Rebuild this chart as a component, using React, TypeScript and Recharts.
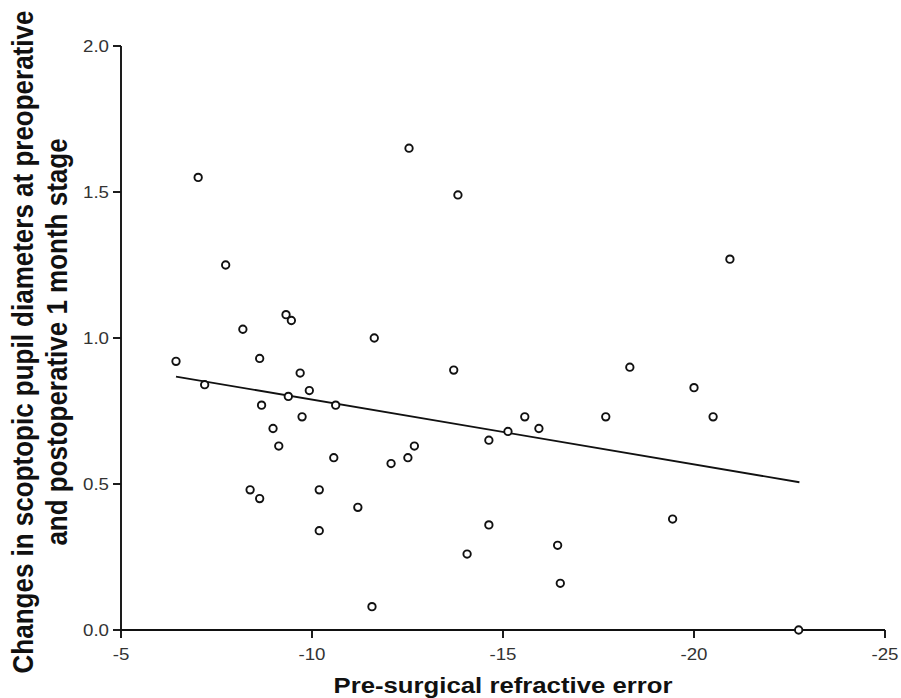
import {
    ScatterChart,
    Scatter,
    XAxis,
    YAxis,
    ReferenceLine,
} from 'recharts';

// pre-surgical refractive error (D) and change in scotopic pupil diameter (mm)
const refractiveError = [
    -6.44, -7.02, -7.19, -7.74, -8.19, -8.38, -8.63, -8.63, -8.68, -8.98,
    -9.13, -9.32, -9.38, -9.46, -9.69, -9.74, -9.93, -10.19, -10.19, -10.57,
    -10.62, -11.2, -11.57, -11.63, -12.07, -12.51, -12.54, -12.68, -13.71, -13.82,
    -14.06, -14.63, -14.63, -15.13, -15.57, -15.94, -16.43, -16.5, -17.69, -18.32,
    -19.44, -20.0, -20.5, -20.94, -22.74,
];
const pupilChange = [
    0.92, 1.55, 0.84, 1.25, 1.03, 0.48, 0.93, 0.45, 0.77, 0.69,
    0.63, 1.08, 0.80, 1.06, 0.88, 0.73, 0.82, 0.48, 0.34, 0.59,
    0.77, 0.42, 0.08, 1.0, 0.57, 0.59, 1.65, 0.63, 0.89, 1.49,
    0.26, 0.65, 0.36, 0.68, 0.73, 0.69, 0.29, 0.16, 0.73, 0.90,
    0.38, 0.83, 0.73, 1.27, 0.0,
];

// fitted regression line end points
const fitX = [-6.44, -22.76];
const fitY = [0.868, 0.506];

const xTicks = [-5, -10, -15, -20, -25];
const yTicks = [0, 0.5, 1.0, 1.5, 2.0];

const xTitle = 'Pre-surgical refractive error';
const yTitle = [
    'Changes in scoptopic pupil diameters at preoperative',
    'and postoperative 1 month stage',
];

const points = refractiveError.map((x, i) => ({ x, y: pupilChange[i] }));

// the source figure is stretched a bit horizontally
const STRETCH = 1.17;
const FONT = '"Liberation Sans", Arial, sans-serif';

const XTick = (props: any) => {
    const { x, y, payload } = props;
    return (
        <text
            transform={`translate(${x},${y}) scale(${STRETCH},1)`}
            textAnchor="middle"
            dy="0.71em"
            fontSize={16}
            fill="#333"
            fontFamily={FONT}
        >
            {payload.value}
        </text>
    );
};

const YTick = (props: any) => {
    const { x, y, payload } = props;
    return (
        <text
            transform={`translate(${x},${y}) scale(${STRETCH},1)`}
            textAnchor="end"
            dy="0.355em"
            fontSize={16}
            fill="#333"
            fontFamily={FONT}
        >
            {Number(payload.value).toFixed(1)}
        </text>
    );
};

const XTitle = (props: any) => {
    const vb = props.viewBox;
    return (
        <text
            transform={`translate(${vb.x + vb.width / 2},${vb.y + 63}) scale(${STRETCH},1)`}
            textAnchor="middle"
            fontSize={22}
            fontWeight="bold"
            fill="#111"
            fontFamily={FONT}
        >
            {xTitle}
        </text>
    );
};

const YTitle = (props: any) => {
    const vb = props.viewBox;
    const cy = vb.y + vb.height / 2 + 4;
    return (
        <text
            transform={`translate(0,${cy}) scale(${STRETCH},1) rotate(-90)`}
            textAnchor="middle"
            fontSize={26}
            fontWeight="bold"
            fill="#111"
            fontFamily={FONT}
        >
            <tspan x={0} y={33 / STRETCH}>{yTitle[0]}</tspan>
            <tspan x={0} y={67 / STRETCH}>{yTitle[1]}</tspan>
        </text>
    );
};

const Dot = (props: any) => (
    <circle cx={props.cx} cy={props.cy} r={3.7} fill="#fff" stroke="#111" strokeWidth={1.9} />
);

export default function App() {
    return (
        <div style={{ position: 'absolute', left: 0, top: 0, background: '#fff' }}>
            <ScatterChart
                width={901}
                height={698}
                margin={{ top: 46, right: 16, bottom: 0, left: 0 }}
            >
                <XAxis
                    type="number"
                    dataKey="x"
                    domain={[-25, -5]}
                    reversed
                    ticks={xTicks}
                    interval={0}
                    height={68}
                    tickSize={8}
                    tickMargin={11}
                    tick={XTick}
                    axisLine={{ stroke: '#111', strokeWidth: 1.9 }}
                    tickLine={{ stroke: '#111', strokeWidth: 1.9 }}
                    label={{ content: XTitle }}
                />
                <YAxis
                    type="number"
                    dataKey="y"
                    domain={[0, 2]}
                    ticks={yTicks}
                    interval={0}
                    width={121}
                    tickSize={8}
                    tickMargin={4}
                    tick={YTick}
                    axisLine={{ stroke: '#111', strokeWidth: 1.9 }}
                    tickLine={{ stroke: '#111', strokeWidth: 1.9 }}
                    label={{ content: YTitle }}
                />
                <ReferenceLine
                    segment={[
                        { x: fitX[0], y: fitY[0] },
                        { x: fitX[1], y: fitY[1] },
                    ]}
                    stroke="#111"
                    strokeWidth={1.8}
                />
                <Scatter data={points} shape={Dot} isAnimationActive={false} />
            </ScatterChart>
        </div>
    );
}
